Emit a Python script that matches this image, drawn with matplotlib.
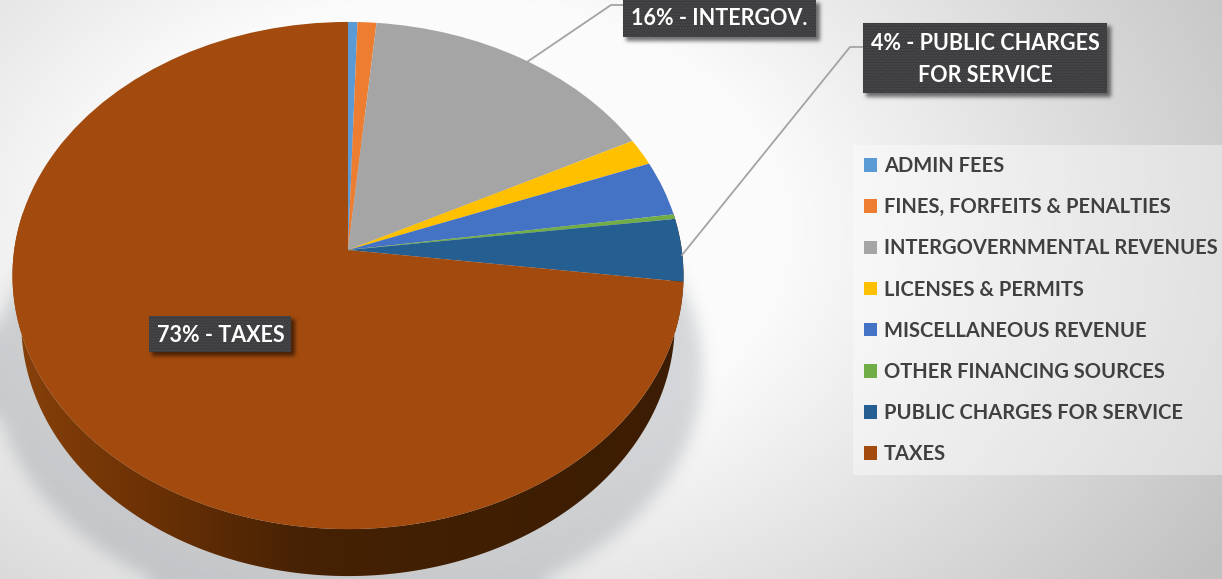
import numpy as np
import matplotlib
matplotlib.use("Agg")
import matplotlib.pyplot as plt
from matplotlib.patches import PathPatch, Rectangle
from matplotlib.path import Path
from matplotlib.transforms import Transform

categories = ["ADMIN FEES", "FINES, FORFEITS & PENALTIES", "INTERGOVERNMENTAL REVENUES",
              "LICENSES & PERMITS", "MISCELLANEOUS REVENUE", "OTHER FINANCING SOURCES",
              "PUBLIC CHARGES FOR SERVICE", "TAXES"]
shares = [0.5, 1.0, 16, 1.7, 3.5, 0.3, 4, 73]
colors = ["#5b9bd5", "#ed7d31", "#a5a5a5", "#ffc000", "#4472c4", "#70ad47", "#255e91", "#a34b0e"]

W, H = 1222, 579
CX, CY = 348.0, 250.0      # apex of the tilted disc, in pixels
AX, BY, K = 333.8, 251.0, 0.1006
DEPTH = 47.0
FONT = ["Lato", "DejaVu Sans"]


class TiltedDisc(Transform):
    """Projects the unit-circle pie onto a disc seen in perspective."""
    input_dims = output_dims = 2

    def transform_non_affine(self, values):
        values = np.asarray(values, float)
        d = 1 + K * values[:, 1]
        return np.column_stack((CX + AX * values[:, 0] / d, CY - BY * values[:, 1] / d))

    def transform_path_non_affine(self, path):
        return Path(self.transform_non_affine(path.vertices), path.codes)


def blur(a, sigma):
    r = int(3 * sigma)
    kernel = np.exp(-0.5 * (np.arange(-r, r + 1) / sigma) ** 2)
    kernel /= kernel.sum()
    pad = np.pad(a, r, mode="edge")
    pad = np.apply_along_axis(lambda m: np.convolve(m, kernel, mode="same"), 0, pad)
    pad = np.apply_along_axis(lambda m: np.convolve(m, kernel, mode="same"), 1, pad)
    return pad[r:-r, r:-r]


fig = plt.figure(figsize=(W / 100, H / 100), dpi=100)
ax = fig.add_axes([0, 0, 1, 1])
wedges, _ = ax.pie(shares, startangle=90, counterclock=False, colors=colors,
                   wedgeprops=dict(linewidth=0))
ax.set_aspect("auto")
ax.set_xlim(0, W)
ax.set_ylim(H, 0)
ax.axis("off")
disc = TiltedDisc()
for w in wedges:
    w.set_transform(disc + ax.transData)
    w.set_zorder(5)

# Page background: pale centre fading to grey towards the corners
yy, xx = np.mgrid[0:H, 0:W]
dist = np.hypot((xx - 440) / 760, (yy - 230) / 520)
shade = np.clip(0.97 - 0.30 * (dist - 0.5), 0.76, 0.985)
ax.imshow(np.dstack([shade] * 3), extent=(0, W, H, 0), aspect="auto", zorder=0)

# Soft shadows under the disc and the callouts
mask = (((xx - CX) / 354.0) ** 2 + ((yy - 370.0) / 250.0) ** 2 < 1).astype(float)
rgba = np.zeros((H, W, 4))
rgba[..., :3] = (0.36, 0.39, 0.43)
rgba[..., 3] = blur(mask, 8) * 0.24
ax.imshow(rgba, extent=(0, W, H, 0), aspect="auto", zorder=1)

box_shadow = np.zeros((H, W))
for x0, y0, x1, y1 in [(623, 0, 816, 37), (863, 23, 1107, 93), (149, 316, 291, 352)]:
    box = np.zeros((H, W))
    box[y0 + 3:y1 + 4, x0 + 3:x1 + 4] = 1
    box_shadow = np.maximum(box_shadow, blur(box, 2.0))
rgba2 = np.zeros((H, W, 4))
rgba2[..., 3] = box_shadow * 0.55
ax.imshow(rgba2, extent=(0, W, H, 0), aspect="auto", zorder=6)

# Side wall of the disc, darkening from left to right
edge_t = np.linspace(np.pi - 0.15, 2 * np.pi + 0.15, 300)
edge = disc.transform_non_affine(np.column_stack((np.cos(edge_t), np.sin(edge_t))))
wall_low = edge.copy()
wall_low[:, 0] = CX + (edge[:, 0] - CX) * 0.974
wall_low[:, 1] = edge[:, 1] + DEPTH
wall = np.vstack((edge, wall_low[::-1]))
gx = np.linspace(0, W, 800)
stops_x = [20, 130, 300, 450, 700]
stops = np.array([[0x86, 0x40, 0x0a], [0x70, 0x33, 0x05], [0x47, 0x22, 0x04],
                  [0x40, 0x1f, 0x03], [0x3c, 0x1c, 0x02]]) / 255
grad = np.column_stack([np.interp(gx, stops_x, stops[:, i]) for i in range(3)])[None, :, :]
im = ax.imshow(grad, extent=(0, W, 590, 200), aspect="auto", zorder=3)
ax.set_xlim(0, W)
ax.set_ylim(H, 0)
clip = PathPatch(Path(np.vstack((wall, wall[:1])), closed=True), transform=ax.transData,
                 facecolor="none", edgecolor="none")
ax.add_patch(clip)
im.set_clip_path(clip)

# Leader lines
ax.plot([527, 611, 623], [62, 5, 5], color="#a3a3a3", lw=1.3, zorder=6)
ax.plot([682, 850, 863], [255, 47, 47], color="#a3a3a3", lw=1.3, zorder=6)

# Dark callouts
callouts = [
    ((623, -5, 193, 42), (719.5, 18.5), f"{shares[2]:.0f}% - INTERGOV."),
    ((863, 23, 244, 70), (985, 59.5), f"{shares[6]:.0f}% - PUBLIC CHARGES\nFOR SERVICE"),
    ((149, 316, 142, 36), (220.5, 336), f"{shares[7]:.0f}% - TAXES"),
]
for (x, y, w, h), (tx, ty), label in callouts:
    ax.add_patch(Rectangle((x, y), w, h, facecolor="#3b3b3d", edgecolor="#4c4c4e",
                           hatch="......", lw=0, zorder=7))
    ax.text(tx, ty, label, color="white", fontsize=15.5, fontweight="bold", family=FONT,
            ha="center", va="center", linespacing=1.62, zorder=8)

# Legend panel
legend = ax.legend(wedges, categories, loc="upper left", bbox_to_anchor=(853 / W, 1 - 145 / H),
                   bbox_transform=fig.transFigure, frameon=True, fancybox=False, framealpha=0.4,
                   facecolor="white", edgecolor="none", borderaxespad=0,
                   handlelength=0.66, handleheight=0.66, handletextpad=0.33, labelspacing=1.05,
                   borderpad=0.55, labelcolor="#404040",
                   prop=dict(family=FONT, weight="bold", size=14.5))
legend.set_zorder(9)

fig.savefig("out.png", dpi=100)
